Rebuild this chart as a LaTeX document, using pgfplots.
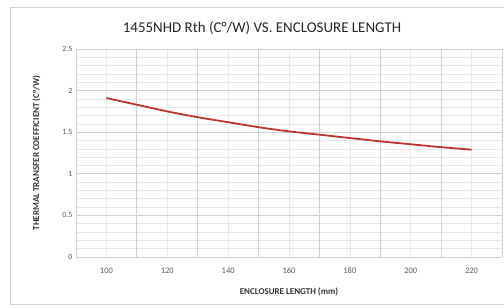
\documentclass[border=0pt]{standalone}
\usepackage{pgfplots}
\pgfplotsset{compat=1.18}
\usepackage{fontspec}
\setmainfont{Carlito}
\definecolor{linered}{RGB}{190,52,48}
\definecolor{majgrid}{RGB}{210,210,210}
\definecolor{mingrid}{RGB}{232,232,232}
\definecolor{ticktext}{RGB}{89,89,89}
\definecolor{frame}{RGB}{210,210,210}
\begin{document}
\begin{tikzpicture}
\useasboundingbox (0bp,0bp) rectangle (504bp,308bp);
\draw[frame,line width=0.8bp] (504bp,301bp) -- (10bp,301bp) -- (10bp,4bp) -- (504bp,4bp);
\node[font=\fontsize{15}{17}\selectfont, text=black!85] at (262bp,280bp) {1455NHD Rth (C°/W) VS. ENCLOSURE LENGTH};
\begin{axis}[
  at={(76bp,51bp)}, anchor=south west,
  scale only axis, width=426bp, height=208bp,
  xmin=90, xmax=230, ymin=0, ymax=2.5,
  xtick={100,120,...,220},
  extra x ticks={110,130,...,230}, extra x tick labels={},
  extra x tick style={grid=major, major grid style={majgrid, line width=0.8bp}},
  ytick={0,0.5,...,2.5},
  minor y tick num=4,
  grid=both,
  major grid style={mingrid, line width=0.6bp},
  minor grid style={mingrid, line width=0.6bp},
  x tick style={draw=none}, y tick style={draw=none},
  minor tick style={draw=none},
  axis line style={draw=none},
  yticklabel style={font=\fontsize{8}{10}\selectfont, text=ticktext, /pgf/number format/fixed},
  xticklabel style={font=\fontsize{8.5}{10}\selectfont, text=ticktext, yshift=-7bp},
  /pgf/number format/assume math mode=true,
  xlabel={ENCLOSURE LENGTH (mm)},
  ylabel={THERMAL TRANSFER COEFFICIENT (C°/W)},
  xlabel style={font=\fontsize{9}{10}\selectfont\bfseries, text=black!80, yshift=-8bp},
  ylabel style={font=\fontsize{9}{10}\selectfont\bfseries, text=black!80, yshift=15bp},
  clip=false,
]
\addplot[draw=none, forget plot] coordinates {(90,0)};
\draw[majgrid, line width=0.8bp] (axis cs:90,0) -- (axis cs:230,0);
\draw[majgrid, line width=0.8bp] (axis cs:90,0.5) -- (axis cs:230,0.5);
\draw[majgrid, line width=0.8bp] (axis cs:90,1) -- (axis cs:230,1);
\draw[majgrid, line width=0.8bp] (axis cs:90,1.5) -- (axis cs:230,1.5);
\draw[majgrid, line width=0.8bp] (axis cs:90,2) -- (axis cs:230,2);
\draw[majgrid, line width=0.8bp] (axis cs:90,2.5) -- (axis cs:230,2.5);
\draw[majgrid, line width=0.8bp] (axis cs:90,0) -- (axis cs:90,2.5);
\addplot[linered, line width=1.8bp, smooth, no marks] coordinates {
(100,1.91) (110,1.83) (120,1.75) (130,1.68) (140,1.62) (150,1.56) (160,1.51) (170,1.47) (180,1.43) (190,1.39) (200,1.355) (210,1.32) (220,1.29)
};
\end{axis}
\end{tikzpicture}
\end{document}
